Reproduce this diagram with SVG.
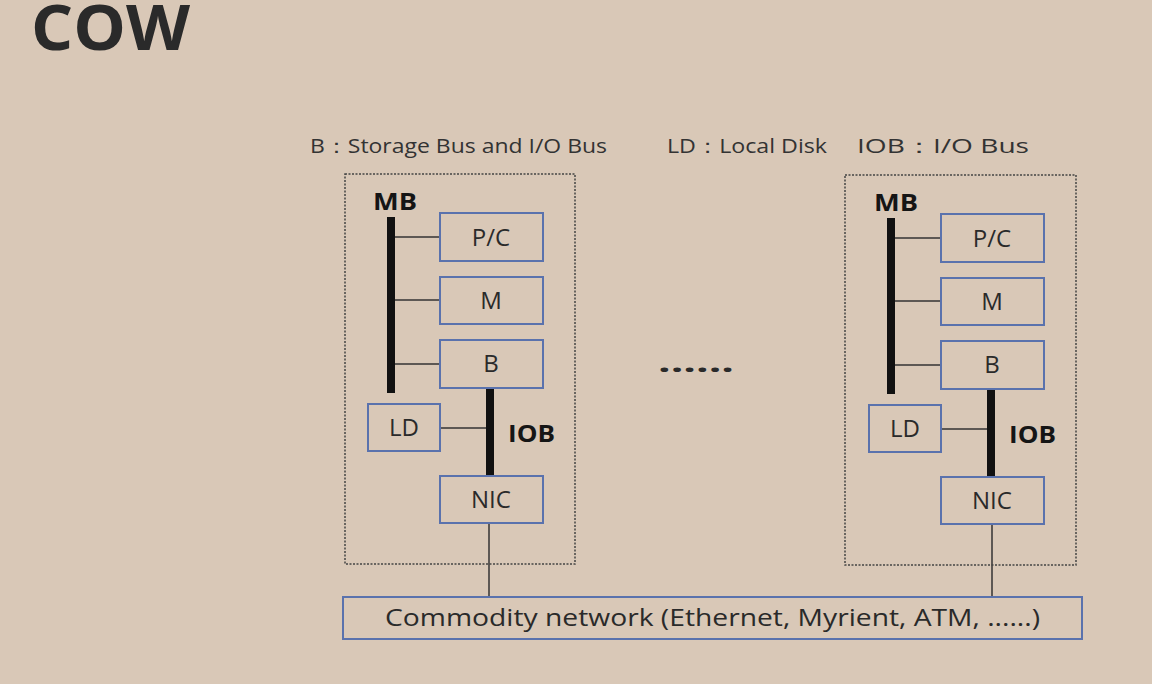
<svg xmlns="http://www.w3.org/2000/svg" width="1152" height="684" viewBox="0 0 1152 684">
<style>
text{font-family:"Open Sans","Liberation Sans",sans-serif;fill:#2a2a2a}
.box{fill:none;stroke:#5a72ad;stroke-width:2}
.frame{fill:none;stroke:#444;stroke-width:1.5;stroke-dasharray:2 1.5}
.bus{stroke:#111;stroke-width:8}
.wire{stroke:#333;stroke-width:1.5;fill:none}
.lbl{font-size:24px;text-anchor:middle}
.bold{font-weight:bold;font-size:23px;fill:#151515}
.hdr{font-size:20px;fill:#333}
</style>
<rect width="1152" height="684" fill="#d9c8b7"/>
<text x="31" y="50" font-size="63" font-weight="bold" fill="#151515" textLength="159" lengthAdjust="spacingAndGlyphs">COW</text>
<text class="hdr" x="310" y="153" textLength="297" lengthAdjust="spacingAndGlyphs">B：Storage Bus and I/O Bus</text>
<text class="hdr" x="667" y="153" textLength="160" lengthAdjust="spacingAndGlyphs">LD：Local Disk</text>
<text class="hdr" x="857" y="153" textLength="172" lengthAdjust="spacingAndGlyphs">IOB：I/O Bus</text>
<text x="658" y="372" font-size="26" font-weight="bold" fill="#222" textLength="76" lengthAdjust="spacingAndGlyphs">......</text>

<g id="connectors">
<line class="wire" x1="489" y1="523" x2="489" y2="597"/>
<line class="wire" x1="992" y1="524" x2="992" y2="597"/>
</g>

<g id="node1">
<rect class="frame" x="345" y="174" width="230" height="390"/>
<text class="bold" x="373" y="210" textLength="44" lengthAdjust="spacingAndGlyphs">MB</text>
<line class="bus" x1="391" y1="217" x2="391" y2="393"/>
<line class="wire" x1="395" y1="237" x2="440" y2="237"/>
<line class="wire" x1="395" y1="300" x2="440" y2="300"/>
<line class="wire" x1="395" y1="364" x2="440" y2="364"/>
<line class="bus" x1="490" y1="388" x2="490" y2="476"/>
<line class="wire" x1="440" y1="428" x2="486" y2="428"/>
<text class="bold" x="508" y="442" textLength="47" lengthAdjust="spacingAndGlyphs">IOB</text>
<rect class="box" x="440" y="213" width="103" height="48"/><text class="lbl" x="491" y="246">P/C</text>
<rect class="box" x="440" y="277" width="103" height="47"/><text class="lbl" x="491" y="309">M</text>
<rect class="box" x="440" y="340" width="103" height="48"/><text class="lbl" x="491" y="372">B</text>
<rect class="box" x="368" y="404" width="72" height="47"/><text class="lbl" x="404" y="436">LD</text>
<rect class="box" x="440" y="476" width="103" height="47"/><text class="lbl" x="491" y="508">NIC</text>
</g>

<g id="node2">
<rect class="frame" x="845" y="175" width="231" height="390"/>
<text class="bold" x="874" y="211" textLength="44" lengthAdjust="spacingAndGlyphs">MB</text>
<line class="bus" x1="891" y1="218" x2="891" y2="394"/>
<line class="wire" x1="895" y1="238" x2="940" y2="238"/>
<line class="wire" x1="895" y1="301" x2="940" y2="301"/>
<line class="wire" x1="895" y1="365" x2="940" y2="365"/>
<line class="bus" x1="991" y1="389" x2="991" y2="477"/>
<line class="wire" x1="941" y1="429" x2="987" y2="429"/>
<text class="bold" x="1009" y="443" textLength="47" lengthAdjust="spacingAndGlyphs">IOB</text>
<rect class="box" x="941" y="214" width="103" height="48"/><text class="lbl" x="992" y="247">P/C</text>
<rect class="box" x="941" y="278" width="103" height="47"/><text class="lbl" x="992" y="310">M</text>
<rect class="box" x="941" y="341" width="103" height="48"/><text class="lbl" x="992" y="373">B</text>
<rect class="box" x="869" y="405" width="72" height="47"/><text class="lbl" x="905" y="437">LD</text>
<rect class="box" x="941" y="477" width="103" height="47"/><text class="lbl" x="992" y="509">NIC</text>
</g>

<g id="network">
<rect class="box" x="343" y="597" width="739" height="42"/>
<text x="385" y="626" font-size="24" textLength="655" lengthAdjust="spacingAndGlyphs">Commodity network (Ethernet, Myrient, ATM, ......)</text>
</g>
</svg>
